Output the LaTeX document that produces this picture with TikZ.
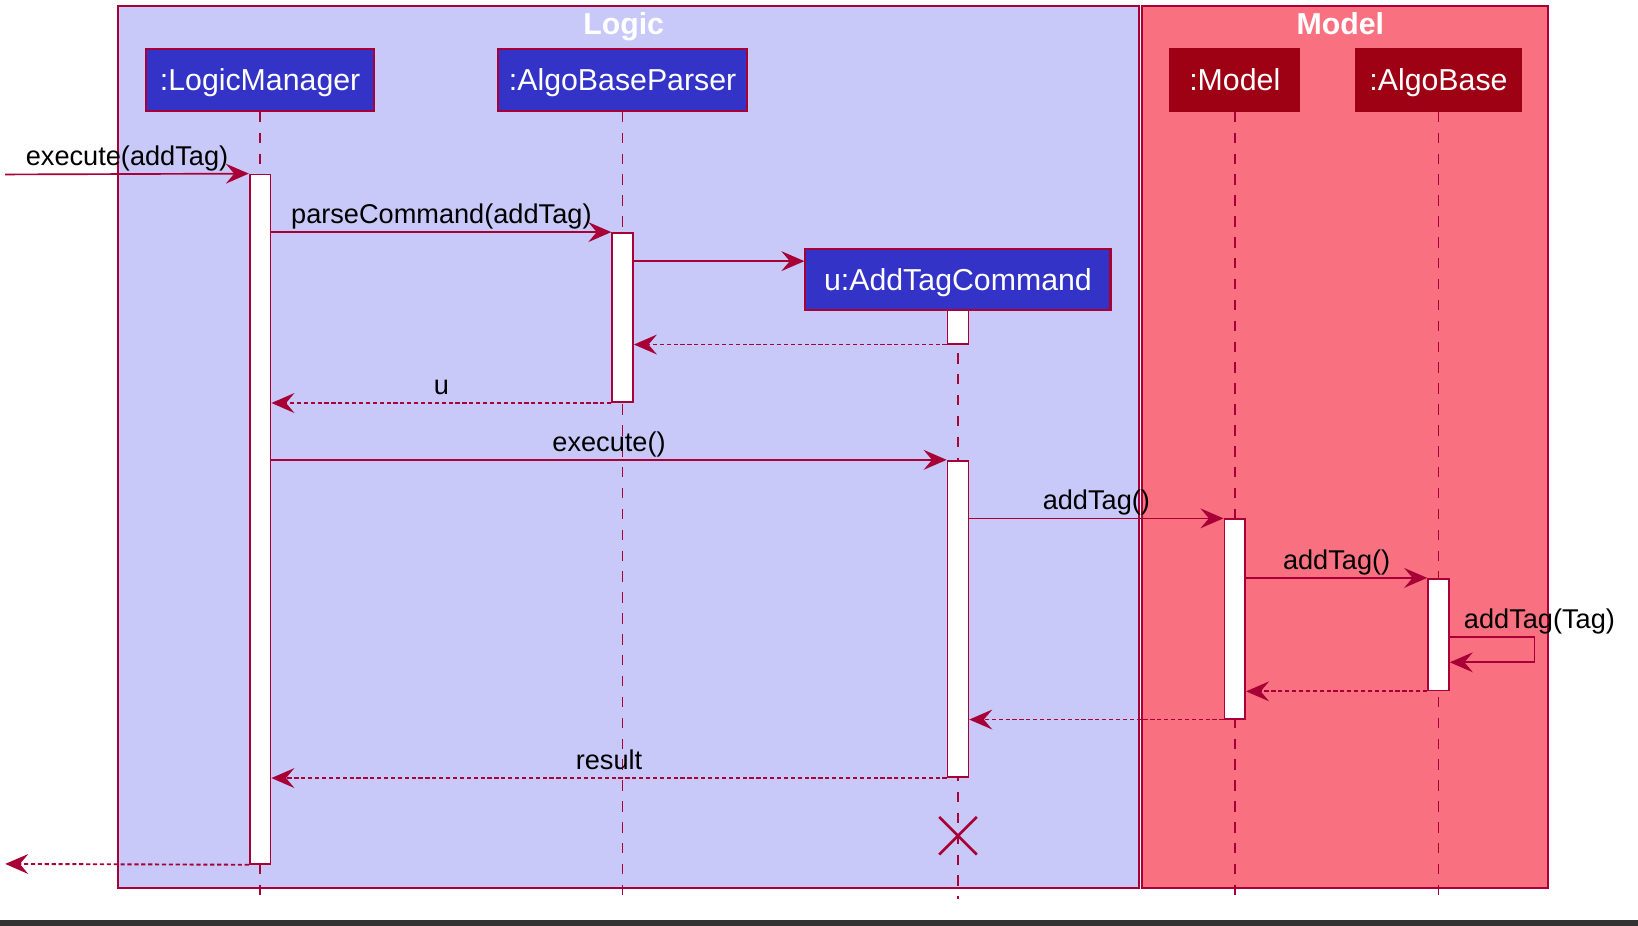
\documentclass[tikz,border=0pt]{standalone}
\usepackage{fontspec}
\setmainfont{Liberation Sans}
\usetikzlibrary{arrows.meta,calc}
\definecolor{crim}{HTML}{A80036}
\definecolor{logicbg}{HTML}{C8C8F9}
\definecolor{modelbg}{HTML}{F97181}
\definecolor{partblue}{HTML}{3333C8}
\definecolor{partred}{HTML}{9E0014}
\begin{document}
\begin{tikzpicture}[x=0.5pt,y=-0.5pt,
    part/.style={draw=crim,line width=1pt,fill=partblue,text=white,minimum height=29.5pt,
      inner xsep=0pt,text height=12pt,text depth=1.5pt,font=\fontsize{14.5}{17}\selectfont},
    act/.style={draw=crim,fill=white,line width=0.8pt,minimum width=10pt,inner sep=0pt},
    life/.style={draw=crim,line width=0.8pt,dash pattern=on 5pt off 5pt},
    msg/.style={draw=crim,line width=0.8pt,-{Stealth[length=11pt,width=9.5pt,inset=4pt]}},
    ret/.style={msg,line width=0.9pt,dash pattern=on 2pt off 1.3pt},
    lbl/.style={anchor=base,inner sep=0pt,text=black,font=\fontsize{13}{15}\selectfont},
    grp/.style={draw=crim,line width=0.8pt},
    title/.style={anchor=base,text=white,font=\fontsize{14.5}{17}\selectfont\bfseries}]
    \useasboundingbox[fill=white](0,0)rectangle(1568,886);
    \fill[black!80](0,881)rectangle(1568,886);
    % groups
    \draw[grp,fill=logicbg](113,6)rectangle(1090,850);
    \draw[grp,fill=modelbg](1093,6)rectangle(1482,850);
    \node[title] (logic) at(597,33) {Logic};
    \node[title] (model) at(1283,33) {Model};
    % participants and lifelines
    \foreach \n/\x/\w/\t in {lm/249/109pt/{:LogicManager}, ps/596/119pt/{:AlgoBaseParser}}{
      \node[part,minimum width=\w] (\n) at(\x,76.5) {\t};
    }
    \foreach \n/\x/\w/\t in {md/1182/61.5pt/{:Model}, ab/1377/78.5pt/{:AlgoBase}}{
      \node[part,fill=partred,draw=partred,minimum width=\w] (\n) at(\x,76.5) {\t};
    }
    \node[part,minimum width=146pt] (uc) at(917,267.5) {u:AddTagCommand};
    \foreach \n in {lm,ps,uc,md,ab}{
      \draw[life](\n.south)--(\n.south |- 0,861);
    }
    % activations
    \foreach \n/\x/\y/\h in {lm1/249/497/330pt, ps1/596/304/81pt, uc0/917/313/16pt,
      uc1/917/592.5/151.5pt, md1/1182/592.5/95.5pt, ab1/1377/607.5/53.5pt}{
      \node[act,minimum height=\h] (\n) at(\x,\y) {};
    }
    \coordinate (in) at(5,167);
    \coordinate (out) at(5,827);
    % messages
    \draw[msg](in)--(lm1.north west)node[lbl,midway,yshift=4pt]{execute(addTag)};
    \draw[msg](lm1.east |- ps1.north)--(ps1.north west)node[lbl,midway,yshift=4pt]{parseCommand(addTag)};
    \draw[msg](ps1.east |- 0,250)--(uc.west |- 0,250);
    \draw[ret](uc0.south west)--(ps1.east |- uc0.south);
    \draw[ret](ps1.south west)--(lm1.east |- ps1.south)node[lbl,midway,yshift=4pt]{u};
    \draw[msg](lm1.east |- uc1.north)--(uc1.north west)node[lbl,midway,yshift=4pt]{execute()};
    \draw[msg](uc1.east |- md1.north)--(md1.north west)node[lbl,midway,yshift=4pt]{addTag()};
    \draw[msg](md1.east |- ab1.north)--(ab1.north west)node[lbl,midway,yshift=4pt]{addTag()};
    \draw[msg](ab1.east |- 0,610)--++(81,0)--++(0,24)--(ab1.east |- 0,634);
    \node[lbl,anchor=base west] (self) at(1401,602) {addTag(Tag)};
    \draw[ret](ab1.south west)--(md1.east |- ab1.south);
    \draw[ret](md1.south west)--(uc1.east |- md1.south);
    \draw[ret](uc1.south west)--(lm1.east |- uc1.south)node[lbl,midway,yshift=4pt]{result};
    \draw[ret](lm1.south west)--(out);
    \draw[crim,line width=1.25pt](899,782)--(935,818)(899,818)--(935,782);
  \end{tikzpicture}
\end{document}
